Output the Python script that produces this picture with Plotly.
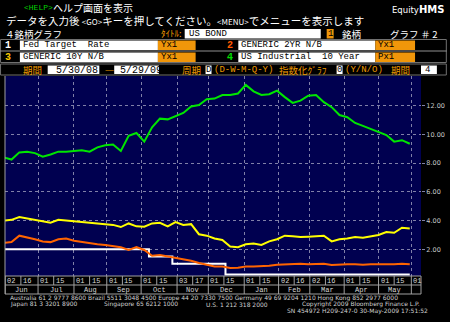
import numpy as np
import pandas as pd
import plotly.graph_objects as go

# ---------------- data ----------------
week_dates = pd.date_range("2008-05-30", "2009-05-29", freq="W-FRI")

us_industrial_10y = [8.40, 8.25, 8.75, 8.80, 8.70, 8.45, 8.60, 8.80, 8.80, 8.85,
                     8.90, 8.80, 9.10, 9.25, 9.30, 8.85, 9.90, 10.10, 9.50, 10.50,
                     11.10, 11.05, 11.30, 11.50, 11.95, 12.05, 12.45, 12.50, 12.74, 12.74,
                     12.85, 13.45, 13.00, 12.75, 12.80, 13.05, 12.60, 12.20, 12.35, 12.70,
                     12.74, 12.25, 11.90, 11.35, 11.20, 10.80, 10.60, 10.40, 10.15, 9.96,
                     9.50, 9.60, 9.35]

generic_10y = [4.00, 4.05, 4.25, 4.15, 4.00, 3.95, 3.85, 4.05, 4.00, 3.92,
               3.92, 3.85, 3.80, 3.75, 3.70, 3.55, 3.80, 3.60, 3.57, 3.80,
               3.85, 3.60, 3.90, 3.70, 3.75, 3.05, 2.95, 2.75, 2.65, 2.20,
               2.15, 2.35, 2.40, 2.30, 2.55, 2.70, 2.95, 2.90, 2.85, 2.88,
               2.90, 2.95, 2.55, 2.70, 2.75, 2.85, 2.80, 2.90, 3.00, 3.20,
               3.15, 3.50, 3.45]

generic_2y = [2.45, 2.50, 2.95, 2.85, 2.70, 2.55, 2.50, 2.70, 2.75, 2.60,
              2.50, 2.45, 2.35, 2.30, 2.25, 2.15, 1.95, 2.15, 1.95, 1.55,
              1.60, 1.50, 1.45, 1.30, 1.20, 1.05, 0.95, 0.80, 0.80, 0.70,
              0.72, 0.80, 0.80, 0.80, 0.85, 0.92, 0.95, 0.95, 1.00, 0.95,
              0.95, 1.00, 0.90, 0.95, 0.95, 0.95, 0.92, 0.95, 0.95, 0.92,
              0.95, 1.00, 0.95]

fed_dates = ["2008-05-30", "2008-10-08", "2008-10-29", "2008-12-16", "2009-05-29"]
fed_target_rate = [2.00, 1.50, 1.00, 0.25, 0.25]

y_ticks = [2, 4, 6, 8, 10, 12]
y_tick_labels = ["2.00", "4.00", "6.00", "8.00", "10.00", "12.00"]

month_starts = ["2008-06-02", "2008-07-01", "2008-08-01", "2008-09-01", "2008-10-01",
                "2008-11-03", "2008-12-01", "2009-01-01", "2009-02-02", "2009-03-02",
                "2009-04-01", "2009-05-01", "2009-06-01"]
month_start_labels = ["02", "01", "01", "01", "01", "03", "01", "01", "02", "02", "01", "01", "01"]
mid_ticks = ["2008-06-16", "2008-07-15", "2008-08-15", "2008-09-15", "2008-10-15",
             "2008-11-17", "2008-12-15", "2009-01-15", "2009-02-16", "2009-03-16",
             "2009-04-15", "2009-05-15"]
mid_tick_labels = ["16", "15", "15", "15", "15", "17", "15", "15", "16", "16", "15", "15"]
month_labels = ["Jun", "Jul", "Aug", "Sep", "Oct", "Nov", "Dec", "Jan", "Feb", "Mar", "Apr", "May"]

# ---------------- figure ----------------
W, H = 450, 322
ML, MR, MT, MB = 5, 26, 76, 46
PW, PH = W - ML - MR, H - MT - MB


def PX(x):
    return (x - ML) / PW


def PY(y):
    return (H - MB - y) / PH


fig = go.Figure()
fig.add_trace(go.Scatter(x=fed_dates, y=fed_target_rate, mode="lines", line_shape="hv",
                         line=dict(color="#ffffff", width=2), name="Fed Target Rate"))
fig.add_trace(go.Scatter(x=week_dates, y=generic_2y, mode="lines",
                         line=dict(color="#ff6400", width=2), name="GENERIC 2YR N/B"))
fig.add_trace(go.Scatter(x=week_dates, y=generic_10y, mode="lines",
                         line=dict(color="#ffff00", width=2), name="GENERIC 10Y N/B"))
fig.add_trace(go.Scatter(x=week_dates, y=us_industrial_10y, mode="lines",
                         line=dict(color="#00e600", width=2), name="US Industrial 10 Year"))

MONO = "Liberation Mono"
CJK = "Noto Sans CJK JP"
SANS = "DejaVu Sans"
ORANGE = "#ee9a00"
BOXOR = "#f0960a"

anns = []
shapes = []


def txt(x, y, s, color="#ffffff", size=11, family=CJK, anchor="left"):
    anns.append(dict(x=PX(x), y=PY(y), xref="paper", yref="paper", text=s, showarrow=False,
                     xanchor=anchor, yanchor="middle", font=dict(color=color, size=size, family=family)))


def rect(x0, y0, x1, y1, fill, line=None):
    shapes.append(dict(type="rect", xref="paper", yref="paper", x0=PX(x0), x1=PX(x1),
                       y0=PY(y0), y1=PY(y1), fillcolor=fill, layer="above",
                       line=dict(width=1 if line else 0, color=line or fill)))


def hline(x0, x1, y, color="#909090"):
    shapes.append(dict(type="line", xref="paper", yref="paper", x0=PX(x0), x1=PX(x1),
                       y0=PY(y), y1=PY(y), line=dict(color=color, width=1), layer="above"))


# header lines
txt(22, 7.5, "&lt;HELP&gt;", "#00d000", 8, MONO)
txt(51, 7.5, "ヘルプ画面を表示", "#ffffff", 10)
txt(4, 20.5, "データを入力後 <span style='font-size:8px'>&lt;GO&gt;</span>キーを押してください。"
             "<span style='font-size:8px'>&lt;MENU&gt;</span>でメニューを表示します", "#ffffff", 10.5)
txt(3, 33.5, "４銘柄グラフ", "#ffffff", 9.5)
txt(393, 10, "Equity", "#ffffff", 8.5, SANS)
txt(420, 10, "<b>HMS</b>", "#ffffff", 10, SANS)
txt(160, 33.5, "ﾀｲﾄﾙ:", ORANGE, 9)
rect(186, 29, 323, 38.5, "#ffffff")
txt(188, 34, "US BOND", "#000000", 9, MONO)
rect(329, 29, 336, 38.5, BOXOR)
txt(332.5, 34, "1", "#000000", 9, MONO, "center")
txt(342, 33.5, "銘柄", "#ffffff", 9.5)
txt(391, 33.5, "グラフ ＃ 2", "#ffffff", 9.5)

# series rows
rect(0.5, 39.5, 449.5, 62.5, "rgba(0,0,0,0)", "#707070")
hline(0, 450, 51)
rect(0.5, 64, 449.5, 75, "rgba(0,0,0,0)", "#707070")
rows = [(45, "1", "#ffffff", "Fed Target  Rate", "Yx1", "2", "#ff5a00", "GENERIC 2YR N/B", "Yx1"),
        (57, "3", "#f5c400", "GENERIC 10Y N/B", "Yx1", "4", "#00e000", "US Industrial  10 Year", "Px1")]
for yc, d1, c1, n1, s1, d2, c2, n2, s2 in rows:
    txt(3, yc + 0.5, "<b>" + d1 + "</b>", c1, 10, MONO)
    rect(20, yc - 4.5, 159, yc + 5, "#ffffff")
    rect(159, yc - 4.5, 197, yc + 5, BOXOR)
    txt(21, yc + 0.5, n1, "#000000", 9, MONO)
    txt(160, yc + 0.5, s1, "#000000", 9, MONO)
    txt(227, yc + 0.5, "<b>" + d2 + "</b>", c2, 10, MONO)
    rect(240, yc - 4.5, 378, yc + 5, "#ffffff")
    rect(378, yc - 4.5, 418, yc + 5, BOXOR)
    txt(241, yc + 0.5, n2, "#000000", 9, MONO)
    txt(379, yc + 0.5, s2, "#000000", 9, MONO)

# period row
yr = 69.5
txt(21, yr, "期間", ORANGE, 9.5)
rect(48, 65.5, 100, 74, "#ffffff")
txt(54, yr + 0.5, "5/30/08", "#000000", 10, MONO)
txt(104, yr, "—", ORANGE, 9, SANS)
rect(115, 65.5, 160, 74, "#ffffff")
txt(119, yr + 0.5, "5/29/09", "#000000", 10, MONO)
txt(181, yr, "周期", ORANGE, 9.5)
rect(207, 65.5, 213, 74, "#ffffff")
txt(210, yr + 0.5, "D", "#000000", 9, MONO, "center")
txt(213, yr + 0.5, "(D-W-M-Q-Y)", ORANGE, 9, MONO)
txt(279, yr, "指数化ｸﾞﾗﾌ", ORANGE, 9.5)
rect(339, 65.5, 345, 74, "#ffffff")
txt(342, yr + 0.5, "0", "#000000", 9, MONO, "center")
txt(345, yr + 0.5, "(Y/N/O)", ORANGE, 9, MONO)
txt(392, yr, "期間", ORANGE, 9.5)
rect(424, 65.5, 440, 74, "#ffffff")
txt(426, yr + 0.5, "4", "#000000", 9, MONO)

# x tick table
TBL = "#a0a0a0"
y_row1 = PY(285)
y_row2 = PY(294)
for d in month_starts:
    shapes.append(dict(type="line", xref="x", yref="paper", x0=d, x1=d, y0=0, y1=y_row2,
                       line=dict(color=TBL, width=1)))
for d in mid_ticks:
    shapes.append(dict(type="line", xref="x", yref="paper", x0=d, x1=d, y0=0, y1=y_row1,
                       line=dict(color=TBL, width=1)))
shapes.append(dict(type="line", xref="paper", yref="paper", x0=0, x1=0, y0=1, y1=y_row2,
                   line=dict(color=TBL, width=1)))
shapes.append(dict(type="line", xref="paper", yref="paper", x0=1, x1=1, y0=0, y1=y_row2,
                   line=dict(color=TBL, width=1)))
for yy in (0, y_row1, y_row2):
    shapes.append(dict(type="line", xref="paper", yref="paper", x0=0, x1=1, y0=yy, y1=yy,
                       line=dict(color=TBL, width=1)))

for d, lab in list(zip(month_starts, month_start_labels)) + list(zip(mid_ticks, mid_tick_labels)):
    anns.append(dict(x=d, xref="x", y=0, yref="paper", yshift=-5, text=lab, showarrow=False,
                     xanchor="left", xshift=0, yanchor="middle",
                     font=dict(color="#d8d8d8", size=7, family=MONO)))
for i, lab in enumerate(month_labels):
    a, b = month_starts[i], month_starts[i + 1]
    n = int(np.busday_count(a, b))
    mid = pd.Timestamp(str(np.busday_offset(a, n // 2))) + pd.Timedelta(hours=12 * (n % 2))
    anns.append(dict(x=mid.strftime("%Y-%m-%d %H:%M"), xref="x", y=0, yref="paper", yshift=-14,
                     text=lab, showarrow=False, xanchor="center", yanchor="middle",
                     font=dict(color="#d8d8d8", size=7, family=MONO)))

# footer
FC = "#d0d0d0"
txt(8, 297.5, "Australia 61 2 9777 8600 Brazil 5511 3048 4500 Europe 44 20 7330 7500 "
              "Germany 49 69 9204 1210 Hong Kong 852 2977 6000", FC, 6, SANS)
txt(8, 304, "Japan 81 3 3201 8900", FC, 6, SANS)
txt(103, 304, "Singapore 65 6212 1000", FC, 6, SANS)
txt(205, 304, "U.S. 1 212 318 2000", FC, 6, SANS)
txt(302, 304, "Copyright 2009 Bloomberg Finance L.P.", FC, 6, SANS)
txt(287, 310.5, "SN 454972 H209-247-0 30-May-2009 17:51:52", FC, 6, SANS)

fig.update_layout(
    width=W, height=H, margin=dict(l=ML, r=MR, t=MT, b=MB, pad=0),
    paper_bgcolor="#000000", plot_bgcolor="#000050", showlegend=False,
    annotations=anns, shapes=shapes,
    xaxis=dict(type="date", range=["2008-05-30 20:00", "2009-06-09 04:30"],
               rangebreaks=[dict(bounds=["sat", "mon"])],
               tickvals=month_starts, showticklabels=False, ticks="",
               showgrid=True, gridcolor="#8080a8", griddash="dot", gridwidth=1,
               zeroline=False, showline=False, fixedrange=True),
    yaxis=dict(side="right", range=[0.14, 14.07], tickvals=y_ticks, ticktext=y_tick_labels,
               tickfont=dict(color="#c8c8c8", size=6.5, family=SANS),
               showgrid=True, gridcolor="#8080a8", griddash="dot", gridwidth=1,
               ticks="outside", ticklen=3, tickcolor="#8080a8",
               zeroline=False, showline=False, fixedrange=True),
)

fig.write_html("out.html")
